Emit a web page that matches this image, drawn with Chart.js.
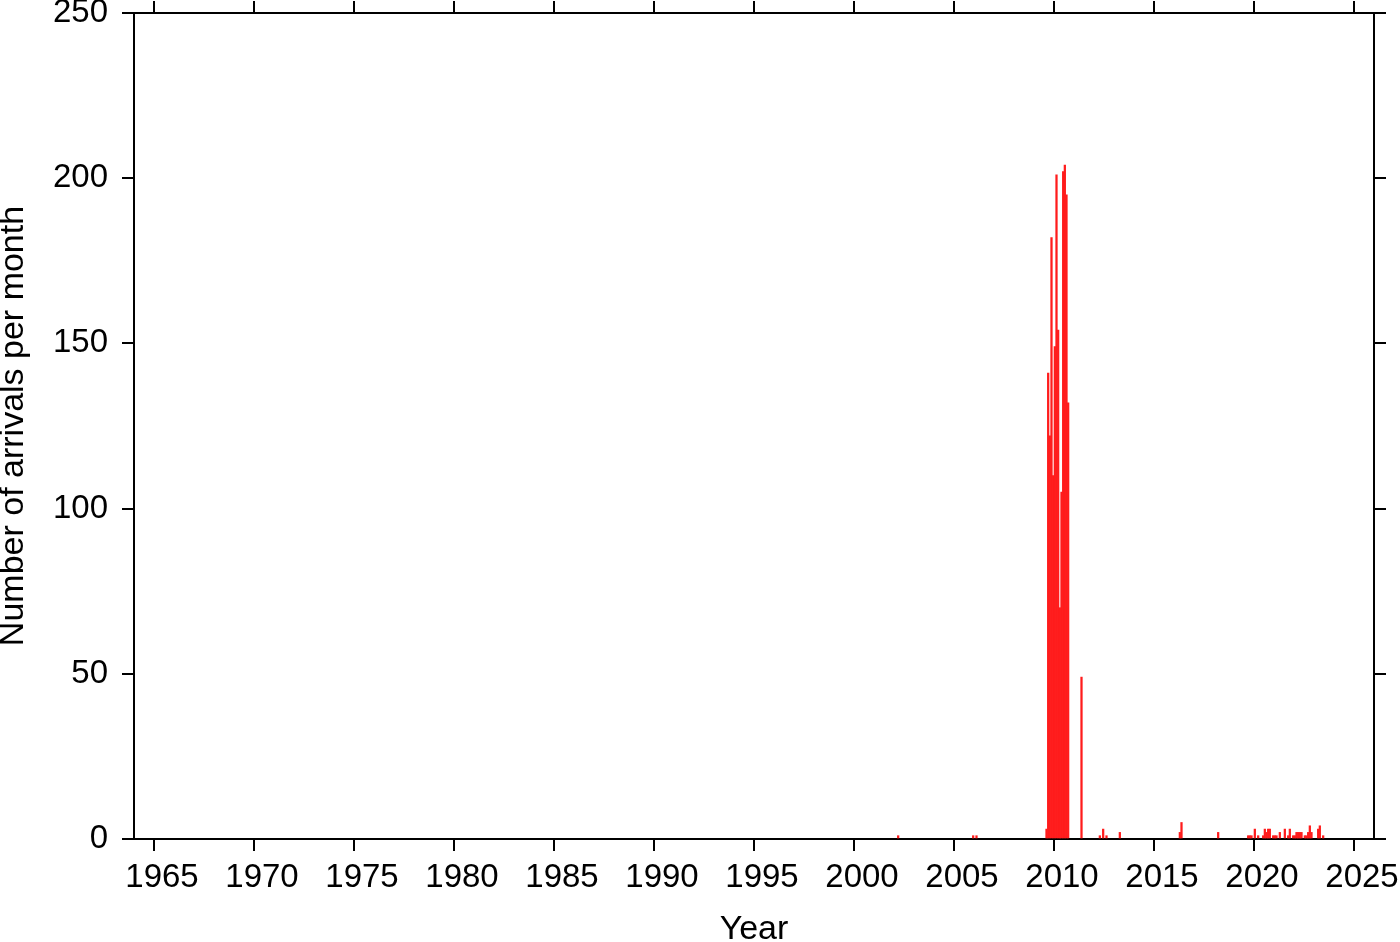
<!DOCTYPE html>
<html>
<head>
<meta charset="utf-8">
<script src="https://cdn.jsdelivr.net/npm/chart.js@4.4.1/dist/chart.umd.min.js"></script>
<style>
    body { margin: 0; background: #fff; }
    canvas { display: block; }
</style>
</head>
<body>
<canvas id="arrivalsChart" width="1400" height="942"></canvas>
<script>
// months with at least one arrival (all other months are zero)
var arrivalMonths = [
    '2002-03', '2005-12', '2006-02',
    '2009-08', '2009-09', '2009-10', '2009-11', '2009-12',
    '2010-01', '2010-02', '2010-03', '2010-04', '2010-05', '2010-06', '2010-07', '2010-08', '2010-09',
    '2011-05',
    '2012-04', '2012-06', '2012-08', '2013-04',
    '2016-04', '2016-05', '2018-03',
    '2019-09', '2019-10', '2019-11',
    '2020-01', '2020-03', '2020-06', '2020-07', '2020-08', '2020-09', '2020-10', '2020-12',
    '2021-01', '2021-02', '2021-04', '2021-07', '2021-09', '2021-10', '2021-12',
    '2022-01', '2022-02', '2022-03', '2022-04', '2022-05', '2022-07', '2022-08', '2022-09', '2022-10', '2022-11',
    '2023-03', '2023-04', '2023-06'
];
var arrivalCounts = [
    1, 1, 1,
    3, 141, 122, 182, 110,
    149, 201, 154, 70, 105, 202, 204, 195, 132,
    49,
    1, 3, 1, 2,
    2, 5, 2,
    1, 1, 1,
    3, 1, 1, 3, 2, 3, 3, 1,
    1, 1, 2, 3, 1, 3, 1,
    1, 2, 2, 2, 2, 1, 1, 2, 4, 2,
    3, 4, 1
];
var yearTicks = [1965, 1970, 1975, 1980, 1985, 1990, 1995, 2000, 2005, 2010, 2015, 2020, 2025];
var countTicks = [0, 50, 100, 150, 200, 250];

var fontFamily = "'Liberation Sans', Arial, Helvetica, sans-serif";

// month string -> decimal year at the middle of that month
function monthToYear(str) {
    var parts = str.split('-');
    return parseInt(parts[0]) + (parseInt(parts[1]) - 0.5) / 12;
}

var points = arrivalMonths.map(function (m, i) {
    return { x: monthToYear(m), y: arrivalCounts[i] };
});

function setTicks(list) {
    return function (scale) {
        scale.ticks = list.map(function (v) { return { value: v }; });
    };
}

// fixed box sizes so the plot area lands where the reference has it
function fixSize(prop, size) {
    return function (scale) {
        scale[prop] = size;
        scale.paddingTop = 0;
        scale.paddingBottom = 0;
        scale.paddingLeft = 0;
        scale.paddingRight = 0;
    };
}

var gridOpts = {
    drawOnChartArea: false,
    drawTicks: true,
    offset: false,
    tickLength: 12,
    lineWidth: 2,
    color: '#000'
};
var borderOpts = { display: true, color: '#000', width: 2 };

var ctx = document.getElementById('arrivalsChart').getContext('2d');
var chart = new Chart(ctx, {
    type: 'bar',
    data: {
        datasets: [{
            label: 'Arrivals',
            data: points,
            backgroundColor: '#ff1c1c',
            borderWidth: 0,
            barThickness: 1.6,
            xAxisID: 'x',
            yAxisID: 'y'
        }]
    },
    options: {
        responsive: false,
        animation: false,
        layout: { padding: 0 },
        scales: {
            x: {
                type: 'linear',
                position: 'bottom',
                min: 1964,
                max: 2026,
                offset: false,
                afterBuildTicks: setTicks(yearTicks),
                afterFit: fixSize('height', 103),
                grid: gridOpts,
                border: borderOpts,
                ticks: {
                    color: '#000',
                    padding: 7,
                    labelOffset: 8,
                    maxRotation: 0,
                    autoSkip: false,
                    font: { family: fontFamily, size: 33 },
                    callback: function (v) { return String(v); }
                },
                title: {
                    display: true,
                    text: 'Year',
                    color: '#000',
                    font: { family: fontFamily, size: 34, lineHeight: 0.75 },
                    padding: { top: 0, bottom: 0 }
                }
            },
            x2: {
                type: 'linear',
                position: 'top',
                min: 1964,
                max: 2026,
                offset: false,
                afterBuildTicks: setTicks(yearTicks),
                afterFit: fixSize('height', 13),
                grid: gridOpts,
                border: borderOpts,
                ticks: { display: false }
            },
            y: {
                type: 'linear',
                position: 'left',
                min: 0,
                max: 250,
                offset: false,
                afterBuildTicks: setTicks(countTicks),
                afterFit: fixSize('width', 134),
                grid: gridOpts,
                border: borderOpts,
                ticks: {
                    color: '#000',
                    padding: 14,
                    font: { family: fontFamily, size: 33 }
                },
                title: {
                    display: true,
                    text: 'Number of arrivals per month',
                    color: '#000',
                    font: { family: fontFamily, size: 34, lineHeight: 1 },
                    padding: { top: -3, bottom: 0 }
                }
            },
            y2: {
                type: 'linear',
                position: 'right',
                min: 0,
                max: 250,
                offset: false,
                afterBuildTicks: setTicks(countTicks),
                afterFit: fixSize('width', 26),
                grid: gridOpts,
                border: borderOpts,
                ticks: { display: false }
            }
        },
        plugins: {
            legend: { display: false },
            tooltip: { enabled: false }
        }
    }
});
</script>
</body>
</html>
